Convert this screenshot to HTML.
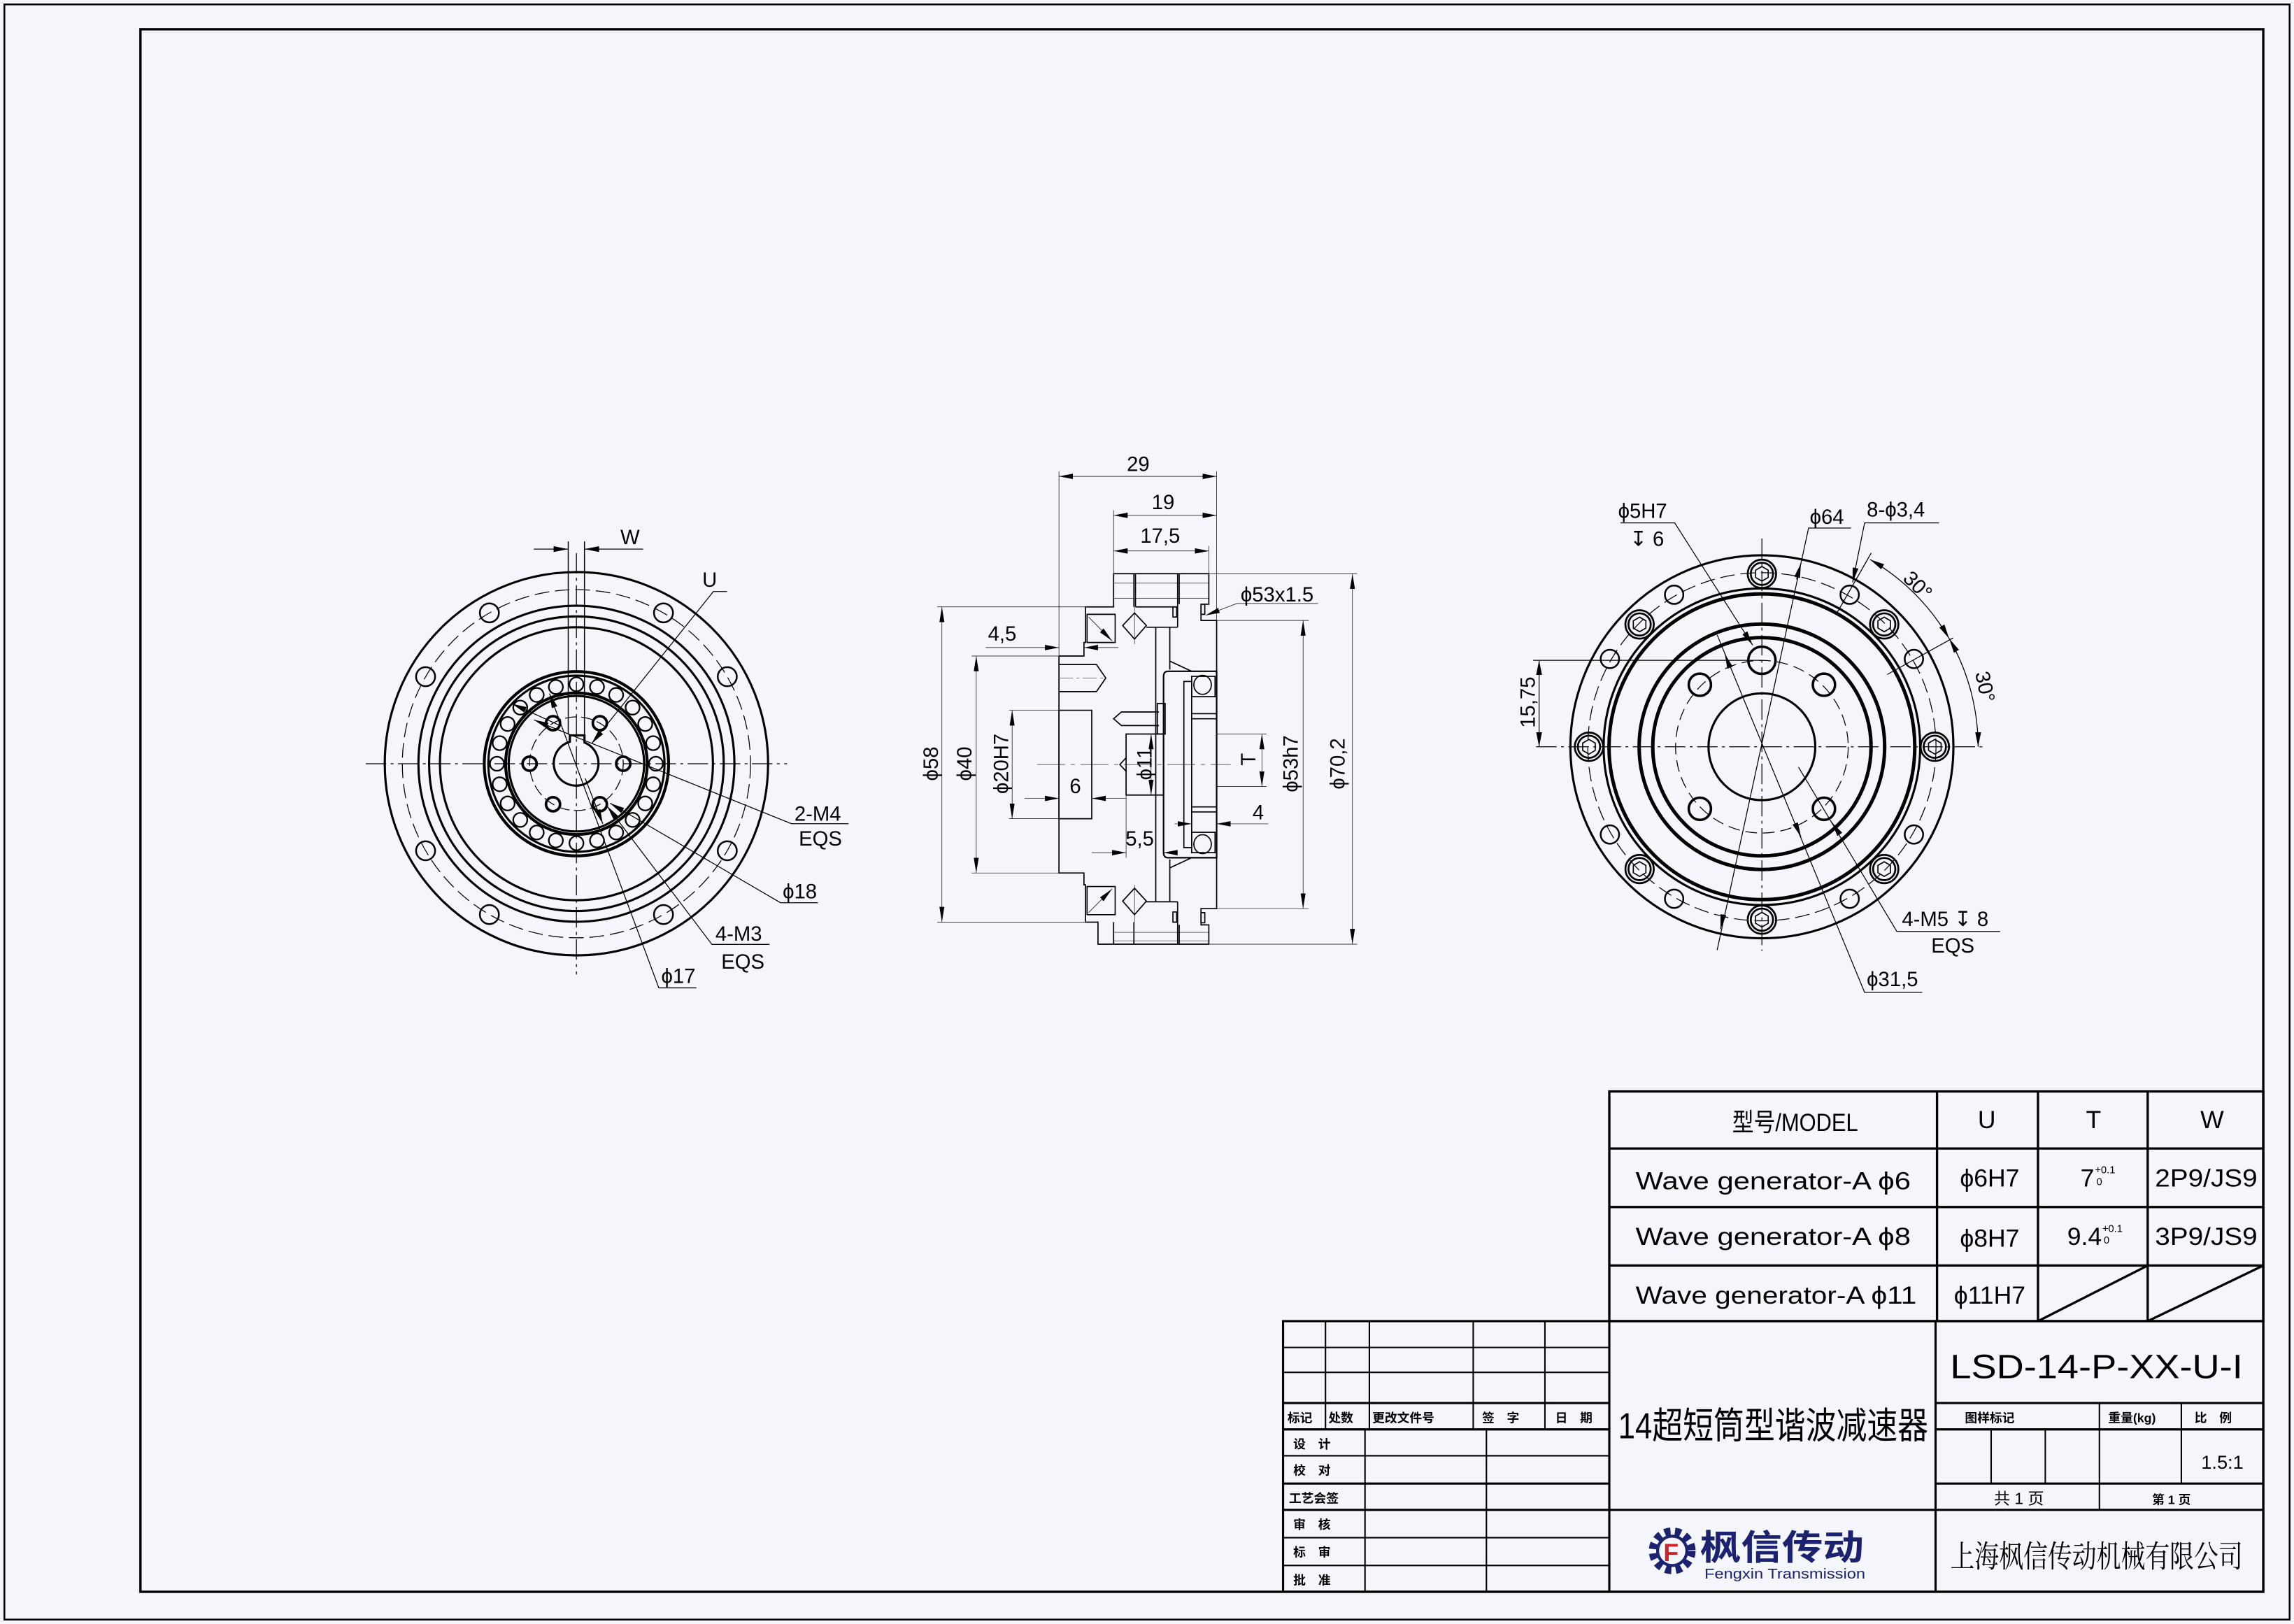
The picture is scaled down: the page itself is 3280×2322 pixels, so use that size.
<!DOCTYPE html>
<html><head><meta charset="utf-8">
<style>
html,body{margin:0;padding:0;background:#f4f6fb;}
svg{display:block;}
.g *{vector-effect:non-scaling-stroke;}
text{font-family:"Liberation Sans","Noto Sans CJK SC",sans-serif;fill:#000;stroke:none;}
</style></head>
<body>
<svg width="3280" height="2322" viewBox="0 0 1568 1110" xmlns="http://www.w3.org/2000/svg">
<defs>
<marker id="a" markerWidth="10" markerHeight="4" refX="10" refY="2" orient="auto-start-reverse" markerUnits="userSpaceOnUse"><path d="M0,0 L10,2 L0,4z" fill="#000"/></marker>
<marker id="b" markerWidth="45" markerHeight="16" refX="45" refY="8" orient="auto-start-reverse" markerUnits="userSpaceOnUse"><path d="M0,0 L45,8 L0,16z" fill="#000"/></marker>
</defs>
<rect width="1568" height="1110" fill="#f4f6fb"/>
<rect x="3" y="3" width="1562" height="1104" fill="none" stroke="#000" stroke-width="1.2"/>
<rect x="96" y="20" width="1451" height="1068" fill="none" stroke="#000" stroke-width="1.6"/>

<!-- LEFT VIEW -->
<g fill="none" stroke="#000" stroke-width="1.5">
<line x1="250" y1="522" x2="538" y2="522" stroke-width="0.6" stroke-dasharray="14,3,2,3"/>
<line x1="394" y1="378" x2="394" y2="666" stroke-width="0.6" stroke-dasharray="14,3,2,3"/>
<circle cx="394" cy="522" r="131"/>
<circle cx="394" cy="522" r="119" stroke-width="0.6" stroke-dasharray="10,4"/>
<circle cx="394" cy="522" r="108"/>
<circle cx="394" cy="522" r="100.7"/>
<circle cx="394" cy="522" r="93.3"/>
<circle cx="394" cy="522" r="63" stroke-width="2"/>
<circle cx="394" cy="522" r="60.2"/>
<circle cx="394" cy="522" r="48.4" stroke-width="2"/>
<circle cx="394" cy="522" r="46.3"/>
<g stroke-width="1.1">
<circle cx="394" cy="467.7" r="4.8"/>
<circle cx="394" cy="467.7" r="4.8" transform="rotate(15 394 522)"/>
<circle cx="394" cy="467.7" r="4.8" transform="rotate(30 394 522)"/>
<circle cx="394" cy="467.7" r="4.8" transform="rotate(45 394 522)"/>
<circle cx="394" cy="467.7" r="4.8" transform="rotate(60 394 522)"/>
<circle cx="394" cy="467.7" r="4.8" transform="rotate(75 394 522)"/>
<circle cx="394" cy="467.7" r="4.8" transform="rotate(90 394 522)"/>
<circle cx="394" cy="467.7" r="4.8" transform="rotate(105 394 522)"/>
<circle cx="394" cy="467.7" r="4.8" transform="rotate(120 394 522)"/>
<circle cx="394" cy="467.7" r="4.8" transform="rotate(135 394 522)"/>
<circle cx="394" cy="467.7" r="4.8" transform="rotate(150 394 522)"/>
<circle cx="394" cy="467.7" r="4.8" transform="rotate(165 394 522)"/>
<circle cx="394" cy="467.7" r="4.8" transform="rotate(180 394 522)"/>
<circle cx="394" cy="467.7" r="4.8" transform="rotate(195 394 522)"/>
<circle cx="394" cy="467.7" r="4.8" transform="rotate(210 394 522)"/>
<circle cx="394" cy="467.7" r="4.8" transform="rotate(225 394 522)"/>
<circle cx="394" cy="467.7" r="4.8" transform="rotate(240 394 522)"/>
<circle cx="394" cy="467.7" r="4.8" transform="rotate(255 394 522)"/>
<circle cx="394" cy="467.7" r="4.8" transform="rotate(270 394 522)"/>
<circle cx="394" cy="467.7" r="4.8" transform="rotate(285 394 522)"/>
<circle cx="394" cy="467.7" r="4.8" transform="rotate(300 394 522)"/>
<circle cx="394" cy="467.7" r="4.8" transform="rotate(315 394 522)"/>
<circle cx="394" cy="467.7" r="4.8" transform="rotate(330 394 522)"/>
<circle cx="394" cy="467.7" r="4.8" transform="rotate(345 394 522)"/>
</g>
<circle cx="394" cy="522" r="32" stroke-width="0.6" stroke-dasharray="8,3"/>
<g stroke-width="1.8">
<circle cx="426" cy="522" r="4.8"/><circle cx="362" cy="522" r="4.8"/>
<circle cx="410" cy="494.3" r="4.8"/><circle cx="378" cy="494.3" r="4.8"/>
<circle cx="410" cy="549.7" r="4.8"/><circle cx="378" cy="549.7" r="4.8"/>
</g>
<path d="M389.5,507 L389.5,502.6 L399.5,502.6 L399.5,507.5 A15.3,15.3 0 1 1 389.5,507z" stroke-width="1.5"/>
<line x1="388.4" y1="370" x2="388.4" y2="502" stroke-width="0.7"/>
<line x1="399.5" y1="370" x2="399.5" y2="502" stroke-width="0.7"/>
<g stroke-width="1.2">
<circle cx="497.1" cy="462.5" r="6.5"/><circle cx="290.9" cy="462.5" r="6.5"/>
<circle cx="497.1" cy="581.5" r="6.5"/><circle cx="290.9" cy="581.5" r="6.5"/>
<circle cx="453.5" cy="418.9" r="6.5"/><circle cx="334.5" cy="418.9" r="6.5"/>
<circle cx="453.5" cy="625.1" r="6.5"/><circle cx="334.5" cy="625.1" r="6.5"/>
</g>
<g stroke-width="0.6">
<line x1="364.9" y1="375.3" x2="388.4" y2="375.3" marker-end="url(#a)"/>
<line x1="439.6" y1="375.3" x2="399.5" y2="375.3" marker-end="url(#a)"/>
<polyline points="497,404.3 487.6,404.3 404.4,508.3" marker-end="url(#a)"/>
<polyline points="580,563 541,563 372,495" />
<line x1="372" y1="495" x2="365" y2="492" marker-end="url(#a)"/>
<polyline points="559,617 533.5,617 417,549" marker-end="url(#a)"/>
<line x1="383" y1="496" x2="350" y2="481" marker-end="url(#a)"/>
<polyline points="526,645.5 486.6,645.5 415,551" marker-end="url(#a)"/>
<polyline points="476,675.2 450.3,675.2 375.6,474" marker-end="url(#a)"/>
<line x1="400" y1="532" x2="412" y2="563" marker-end="url(#a)"/>
</g>
</g>
<g font-size="14">
<text x="424" y="372">W</text>
<text x="480" y="401">U</text>
<text x="543" y="561">2-M4</text>
<text x="546" y="578">EQS</text>
<text x="535" y="614">ϕ18</text>
<text x="489" y="643">4-M3</text>
<text x="493" y="662">EQS</text>
<text x="452" y="672">ϕ17</text>
</g>

<!-- MIDDLE VIEW (zoom coords) -->
<g class="g" transform="matrix(0.2134 0 0 0.2317 621.4 305.9)" fill="none" stroke="#000" stroke-width="1.7">
<polyline points="480,615 560,615 560,575 565,575 565,470 655,470 655,372 960,372 960,462 935,462 935,510 985,510 985,1360 935,1360 935,1408 960,1408 960,1465 605,1465 605,1400 565,1400 565,1290 560,1290 560,1255 480,1255 480,615"/>
<line x1="655" y1="1400" x2="655" y2="1465"/>
<line x1="720" y1="372" x2="720" y2="470"/>
<line x1="725" y1="372" x2="725" y2="470"/>
<line x1="860" y1="372" x2="860" y2="530"/>
<line x1="865" y1="372" x2="865" y2="462"/>
<line x1="655" y1="400" x2="960" y2="400" stroke-width="0.6"/>
<line x1="655" y1="445" x2="960" y2="445" stroke-width="0.6"/>
<line x1="725" y1="470" x2="860" y2="470"/>
<line x1="760" y1="530" x2="860" y2="530"/>
<line x1="790" y1="530" x2="790" y2="1340"/>
<line x1="835" y1="530" x2="835" y2="655"/>
<line x1="835" y1="1215" x2="835" y2="1340"/>
<line x1="720" y1="1400" x2="720" y2="1465"/>
<line x1="860" y1="1340" x2="860" y2="1465"/>
<line x1="865" y1="1408" x2="865" y2="1465"/>
<line x1="760" y1="1340" x2="860" y2="1340"/>
<line x1="655" y1="1430" x2="960" y2="1430" stroke-width="0.6"/>
<line x1="655" y1="1455" x2="960" y2="1455" stroke-width="0.6"/>
<rect x="845" y="470" width="12" height="30"/><rect x="935" y="462" width="12" height="30"/>
<rect x="845" y="1370" width="12" height="30"/><rect x="935" y="1372" width="12" height="30"/>
<path d="M722,488 L760,525 L722,565 L684,525z"/>
<path d="M722,1300 L760,1338 L722,1378 L684,1338z"/>
<line x1="722" y1="470" x2="722" y2="580" stroke-width="0.6"/>
<line x1="722" y1="1290" x2="722" y2="1400" stroke-width="0.6"/>
<rect x="570" y="492" width="90" height="83"/>
<line x1="575" y1="500" x2="650" y2="570" stroke-width="0.8" marker-end="url(#b)"/>
<rect x="570" y="1295" width="90" height="83"/>
<line x1="575" y1="1372" x2="650" y2="1302" stroke-width="0.8" marker-end="url(#b)"/>
<polyline points="480,640 600,640 630,680 600,720 480,720"/>
<line x1="480" y1="680" x2="625" y2="680" stroke-width="0.6" stroke-dasharray="20,5,4,5"/>
<rect x="480" y="775" width="105" height="320"/>
<rect x="695" y="845" width="120" height="180"/>
<polyline points="695,915 675,935 695,955" />
<rect x="795" y="755" width="25" height="90"/>
<polyline points="800,780 680,780 655,800 680,820 800,820"/>
<path d="M815,675 Q815,660 830,660 L985,660 L985,1210 L830,1210 Q815,1210 815,1195z" stroke-width="2.2"/>
<rect x="880" y="690" width="25" height="490"/>
<circle cx="940" cy="700" r="28"/><circle cx="940" cy="1170" r="28"/>
<rect x="905" y="675" width="75" height="60"/><rect x="905" y="1135" width="75" height="60"/>
<line x1="905" y1="785" x2="985" y2="785"/><line x1="905" y1="800" x2="985" y2="800"/>
<line x1="905" y1="1060" x2="985" y2="1060"/><line x1="905" y1="1075" x2="985" y2="1075"/>
<line x1="835" y1="630" x2="905" y2="660"/><line x1="835" y1="1240" x2="905" y2="1210"/>
<line x1="410" y1="935" x2="1030" y2="935" stroke-width="0.6" stroke-dasharray="40,8,6,8"/>
<g stroke-width="0.7">
<line x1="480" y1="70" x2="480" y2="615"/><line x1="985" y1="70" x2="985" y2="510"/>
<line x1="480" y1="85" x2="985" y2="85" marker-start="url(#b)" marker-end="url(#b)"/>
<line x1="655" y1="185" x2="655" y2="372"/>
<line x1="655" y1="200" x2="985" y2="200" marker-start="url(#b)" marker-end="url(#b)"/>
<line x1="960" y1="290" x2="960" y2="372"/>
<line x1="655" y1="305" x2="960" y2="305" marker-start="url(#b)" marker-end="url(#b)"/>
<line x1="90" y1="470" x2="565" y2="470"/><line x1="90" y1="1400" x2="565" y2="1400"/>
<line x1="105" y1="470" x2="105" y2="1400" marker-start="url(#b)" marker-end="url(#b)"/>
<line x1="200" y1="615" x2="480" y2="615"/><line x1="200" y1="1255" x2="480" y2="1255"/>
<line x1="215" y1="615" x2="215" y2="1255" marker-start="url(#b)" marker-end="url(#b)"/>
<line x1="320" y1="775" x2="480" y2="775"/><line x1="320" y1="1095" x2="480" y2="1095"/>
<line x1="330" y1="775" x2="330" y2="1095" marker-start="url(#b)" marker-end="url(#b)"/>
<line x1="245" y1="590" x2="480" y2="590" marker-end="url(#b)"/>
<line x1="670" y1="590" x2="560" y2="590" marker-end="url(#b)"/>
<line x1="370" y1="1035" x2="480" y2="1035" marker-end="url(#b)"/>
<line x1="695" y1="1035" x2="585" y2="1035" marker-end="url(#b)"/>
<line x1="695" y1="1025" x2="695" y2="1210"/>
<line x1="585" y1="1195" x2="695" y2="1195" marker-end="url(#b)"/>
<line x1="860" y1="1195" x2="815" y2="1195" marker-end="url(#b)"/>
<line x1="775" y1="845" x2="775" y2="1025" marker-start="url(#b)" marker-end="url(#b)"/>
<line x1="985" y1="845" x2="1145" y2="845"/><line x1="985" y1="1000" x2="1145" y2="1000"/>
<line x1="1130" y1="845" x2="1130" y2="1000" marker-start="url(#b)" marker-end="url(#b)"/>
<line x1="850" y1="1110" x2="905" y2="1110" marker-end="url(#b)"/>
<line x1="1150" y1="1110" x2="985" y2="1110" marker-end="url(#b)"/>
<line x1="985" y1="510" x2="1280" y2="510"/><line x1="985" y1="1360" x2="1280" y2="1360"/>
<line x1="1262" y1="510" x2="1262" y2="1360" marker-start="url(#b)" marker-end="url(#b)"/>
<line x1="960" y1="372" x2="1435" y2="372"/><line x1="960" y1="1465" x2="1435" y2="1465"/>
<line x1="1420" y1="372" x2="1420" y2="1465" marker-start="url(#b)" marker-end="url(#b)"/>
<polyline points="950,495 1050,460 1310,460" marker-start="url(#b)"/>
</g>
</g>
<g font-size="14">
<text x="778" y="322" text-anchor="middle">29</text>
<text x="795" y="348" text-anchor="middle">19</text>
<text x="793" y="371" text-anchor="middle">17,5</text>
<text x="848" y="411">ϕ53x1.5</text>
<text x="685" y="438" text-anchor="middle">4,5</text>
<text x="735" y="542" text-anchor="middle">6</text>
<text x="860" y="560" text-anchor="middle">4</text>
<text x="779" y="578" text-anchor="middle">5,5</text>
<text transform="translate(641,522) rotate(-90)" text-anchor="middle">ϕ58</text>
<text transform="translate(664,522) rotate(-90)" text-anchor="middle">ϕ40</text>
<text transform="translate(689,522) rotate(-90)" text-anchor="middle">ϕ20H7</text>
<text transform="translate(787,522) rotate(-90)" text-anchor="middle">ϕ11</text>
<text transform="translate(858,519) rotate(-90)" text-anchor="middle">T</text>
<text transform="translate(887,522) rotate(-90)" text-anchor="middle">ϕ53h7</text>
<text transform="translate(919,522) rotate(-90)" text-anchor="middle">ϕ70,2</text>
</g>

<!-- RIGHT VIEW -->
<g fill="none" stroke="#000" stroke-width="1.5">
<line x1="1050" y1="510.4" x2="1356" y2="510.4" stroke-width="0.6" stroke-dasharray="14,3,2,3"/>
<line x1="1204.3" y1="368" x2="1204.3" y2="650" stroke-width="0.6" stroke-dasharray="14,3,2,3"/>
<circle cx="1204.3" cy="510.4" r="130.9"/>
<circle cx="1204.3" cy="510.4" r="119" stroke-width="0.6" stroke-dasharray="10,4"/>
<circle cx="1204.3" cy="510.4" r="108.2"/>
<circle cx="1204.3" cy="510.4" r="104.5" stroke-width="2.4"/>
<circle cx="1204.3" cy="510.4" r="83.9" stroke-width="2.4"/>
<circle cx="1204.3" cy="510.4" r="74.6" stroke-width="2.4"/>
<circle cx="1204.3" cy="510.4" r="59" stroke-width="0.6" stroke-dasharray="8,4"/>
<circle cx="1204.3" cy="510.4" r="36.5"/>
<g stroke-width="1.3">
<circle cx="1322.5" cy="510.4" r="9.7"/><circle cx="1086.1" cy="510.4" r="9.7"/>
<circle cx="1204.3" cy="392.2" r="9.7"/><circle cx="1204.3" cy="628.6" r="9.7"/>
<circle cx="1287.9" cy="426.8" r="9.7"/><circle cx="1120.7" cy="426.8" r="9.7"/>
<circle cx="1287.9" cy="594" r="9.7"/><circle cx="1120.7" cy="594" r="9.7"/>
<circle cx="1322.5" cy="510.4" r="7.6"/><circle cx="1086.1" cy="510.4" r="7.6"/>
<circle cx="1204.3" cy="392.2" r="7.6"/><circle cx="1204.3" cy="628.6" r="7.6"/>
<circle cx="1287.9" cy="426.8" r="7.6"/><circle cx="1120.7" cy="426.8" r="7.6"/>
<circle cx="1287.9" cy="594" r="7.6"/><circle cx="1120.7" cy="594" r="7.6"/>
</g>
<g stroke-width="0.8">
<path d="M1322.5,505.4 l4.3,2.5 v5 l-4.3,2.5 l-4.3,-2.5 v-5z"/>
<path d="M1086.1,505.4 l4.3,2.5 v5 l-4.3,2.5 l-4.3,-2.5 v-5z"/>
<path d="M1204.3,387.2 l4.3,2.5 v5 l-4.3,2.5 l-4.3,-2.5 v-5z"/>
<path d="M1204.3,623.6 l4.3,2.5 v5 l-4.3,2.5 l-4.3,-2.5 v-5z"/>
<path d="M1287.9,421.8 l4.3,2.5 v5 l-4.3,2.5 l-4.3,-2.5 v-5z"/>
<path d="M1120.7,421.8 l4.3,2.5 v5 l-4.3,2.5 l-4.3,-2.5 v-5z"/>
<path d="M1287.9,589 l4.3,2.5 v5 l-4.3,2.5 l-4.3,-2.5 v-5z"/>
<path d="M1120.7,589 l4.3,2.5 v5 l-4.3,2.5 l-4.3,-2.5 v-5z"/>
</g>
<g stroke-width="1.2">
<circle cx="1308.2" cy="450.4" r="6.3"/><circle cx="1100.4" cy="450.4" r="6.3"/>
<circle cx="1308.2" cy="570.4" r="6.3"/><circle cx="1100.4" cy="570.4" r="6.3"/>
<circle cx="1264.3" cy="406.5" r="6.3"/><circle cx="1144.3" cy="406.5" r="6.3"/>
<circle cx="1264.3" cy="614.3" r="6.3"/><circle cx="1144.3" cy="614.3" r="6.3"/>
</g>
<g stroke-width="1.7">
<circle cx="1246.7" cy="468" r="7.6"/><circle cx="1161.9" cy="468" r="7.6"/>
<circle cx="1246.7" cy="552.8" r="7.6"/><circle cx="1161.9" cy="552.8" r="7.6"/>
<circle cx="1204.3" cy="451.3" r="9.3"/>
</g>
<g stroke-width="0.6">
<polyline points="1107.6,357.4 1144.7,357.4 1198,441" marker-end="url(#a)"/>
<polyline points="1265.2,360.9 1236.2,360.9 1173.7,649.4"/>
<line x1="1228" y1="396" x2="1231" y2="385" marker-end="url(#a)"/>
<line x1="1178" y1="625" x2="1176" y2="635" marker-end="url(#a)"/>
<polyline points="1325.4,357.4 1274.5,357.4 1266.3,398" marker-end="url(#a)"/>
<line x1="1255" y1="420" x2="1279" y2="378"/>
<line x1="1290" y1="461" x2="1335" y2="436"/>
<path d="M1278.2,382.4 A147.8,147.8 0 0 1 1332.3,436.5" marker-start="url(#a)" marker-end="url(#a)"/>
<path d="M1332.3,436.5 A147.8,147.8 0 0 1 1352.1,510.4" marker-start="url(#a)" marker-end="url(#a)"/>
<line x1="1048" y1="451.3" x2="1204" y2="451.3"/>
<line x1="1052" y1="451.3" x2="1052" y2="510.4" marker-start="url(#a)" marker-end="url(#a)"/>
<polyline points="1367.1,636.6 1296.5,636.6 1229.3,524.3"/>
<line x1="1252" y1="562" x2="1256" y2="568" marker-start="url(#a)"/>
<polyline points="1313.9,678.3 1274.5,678.3 1173.7,433.9"/>
<line x1="1228" y1="565" x2="1231" y2="572" marker-end="url(#a)"/>
<line x1="1182" y1="455" x2="1179" y2="447" marker-end="url(#a)"/>
</g>
</g>
<g font-size="14">
<text x="1106" y="354">ϕ5H7</text>
<text x="1114" y="373">↧ 6</text>
<text x="1237" y="358">ϕ64</text>
<text x="1276" y="353">8-ϕ3,4</text>
<text transform="translate(1300,396) rotate(45)">30°</text>
<text transform="translate(1350,460) rotate(78)">30°</text>
<text transform="translate(1049,480) rotate(-90)" text-anchor="middle">15,75</text>
<text x="1300" y="633">4-M5 ↧ 8</text>
<text x="1320" y="651">EQS</text>
<text x="1276" y="674">ϕ31,5</text>
</g>

<!-- UPPER TABLE -->
<g fill="none" stroke="#000" stroke-width="1.6">
<rect x="1100" y="746" width="447" height="157"/>
<line x1="1100" y1="785" x2="1547" y2="785"/>
<line x1="1100" y1="825" x2="1547" y2="825"/>
<line x1="1100" y1="865" x2="1547" y2="865"/>
<line x1="1324" y1="746" x2="1324" y2="903"/>
<line x1="1393" y1="746" x2="1393" y2="903"/>
<line x1="1468" y1="746" x2="1468" y2="903"/>
<line x1="1393" y1="903" x2="1468" y2="865"/>
<line x1="1468" y1="903" x2="1547" y2="865"/>
</g>
<g font-size="17">
<text x="1184" y="773" textLength="86" lengthAdjust="spacingAndGlyphs">型号/MODEL</text>
<text x="1358" y="771" text-anchor="middle">U</text>
<text x="1431" y="771" text-anchor="middle">T</text>
<text x="1512" y="771" text-anchor="middle">W</text>
<text x="1118" y="813" textLength="188" lengthAdjust="spacingAndGlyphs">Wave generator-A ϕ6</text>
<text x="1118" y="851" textLength="188" lengthAdjust="spacingAndGlyphs">Wave generator-A ϕ8</text>
<text x="1118" y="891" textLength="192" lengthAdjust="spacingAndGlyphs">Wave generator-A ϕ11</text>
<text x="1360" y="811" text-anchor="middle">ϕ6H7</text>
<text x="1360" y="852" text-anchor="middle">ϕ8H7</text>
<text x="1360" y="891" text-anchor="middle">ϕ11H7</text>
<text x="1422" y="811">7</text><text x="1432" y="802" font-size="7">+0.1</text><text x="1433" y="810" font-size="7">0</text>
<text x="1413" y="851">9.4</text><text x="1437" y="842" font-size="7">+0.1</text><text x="1438" y="850" font-size="7">0</text>
<text x="1473" y="811" textLength="70" lengthAdjust="spacingAndGlyphs">2P9/JS9</text>
<text x="1473" y="851" textLength="70" lengthAdjust="spacingAndGlyphs">3P9/JS9</text>
</g>

<!-- TITLE BLOCK -->
<g fill="none" stroke="#000" stroke-width="1.5">
<rect x="877" y="903" width="670" height="185"/>
<line x1="877" y1="921" x2="1100" y2="921" stroke-width="1"/>
<line x1="877" y1="938" x2="1100" y2="938" stroke-width="1"/>
<line x1="877" y1="959" x2="1100" y2="959"/>
<line x1="1323" y1="959" x2="1547" y2="959"/>
<line x1="877" y1="977" x2="1100" y2="977"/>
<line x1="1323" y1="977" x2="1547" y2="977"/>
<line x1="877" y1="995" x2="1100" y2="995" stroke-width="1"/>
<line x1="877" y1="1014" x2="1100" y2="1014"/>
<line x1="1323" y1="1014" x2="1547" y2="1014"/>
<line x1="877" y1="1032" x2="1547" y2="1032"/>
<line x1="877" y1="1051" x2="1100" y2="1051" stroke-width="1"/>
<line x1="877" y1="1070" x2="1100" y2="1070" stroke-width="1"/>
<line x1="906" y1="903" x2="906" y2="977" stroke-width="1"/>
<line x1="936" y1="903" x2="936" y2="977" stroke-width="1"/>
<line x1="1007" y1="903" x2="1007" y2="977" stroke-width="1"/>
<line x1="1056" y1="903" x2="1056" y2="977" stroke-width="1"/>
<line x1="933" y1="977" x2="933" y2="1088" stroke-width="1"/>
<line x1="1016" y1="977" x2="1016" y2="1088" stroke-width="1"/>
<line x1="1100" y1="903" x2="1100" y2="1088"/>
<line x1="1323" y1="903" x2="1323" y2="1088"/>
<line x1="1361" y1="977" x2="1361" y2="1014" stroke-width="1"/>
<line x1="1398" y1="977" x2="1398" y2="1014" stroke-width="1"/>
<line x1="1435" y1="959" x2="1435" y2="1032" stroke-width="1"/>
<line x1="1491" y1="959" x2="1491" y2="1014" stroke-width="1"/>
</g>
<g font-size="8.5" font-weight="bold">
<text x="880" y="972">标记</text><text x="908" y="972">处数</text><text x="938" y="972">更改文件号</text>
<text x="1013" y="972">签　字</text><text x="1063" y="972">日　期</text>
<text x="884" y="990">设　计</text><text x="884" y="1008">校　对</text><text x="881" y="1027">工艺会签</text>
<text x="884" y="1045">审　核</text><text x="884" y="1064">标　审</text><text x="884" y="1083">批　准</text>
<text x="1343" y="972">图样标记</text><text x="1441" y="972">重量(kg)</text><text x="1500" y="972">比　例</text>
<text x="1471" y="1028">第 1 页</text>
</g>
<text x="1380" y="1028" font-size="11" text-anchor="middle">共 1 页</text>
<text x="1519" y="1004" font-size="13" text-anchor="middle">1.5:1</text>
<text x="1333" y="942" font-size="23" textLength="200" lengthAdjust="spacingAndGlyphs">LSD-14-P-XX-U-I</text>
<text x="1106" y="983" font-size="25" textLength="212" lengthAdjust="spacingAndGlyphs">14超短筒型谐波减速器</text>
<text x="1333" y="1071" font-size="21" textLength="200" lengthAdjust="spacingAndGlyphs" style="font-family:'Noto Serif CJK SC',serif;">上海枫信传动机械有限公司</text>
<!-- logo -->
<g>
<circle cx="1143" cy="1060" r="13" fill="none" stroke="#1b2270" stroke-width="6" stroke-dasharray="4,3"/>
<circle cx="1143" cy="1060" r="10" fill="#f4f6fb" stroke="#1b2270" stroke-width="2"/>
<text x="1137" y="1067" font-size="17" font-weight="bold" style="fill:#d0202a">F</text>
<text x="1162" y="1066" font-size="24" font-weight="bold" textLength="112" lengthAdjust="spacingAndGlyphs" style="fill:#1b2270;font-family:'Noto Sans CJK SC',sans-serif">枫信传动</text>
<text x="1165" y="1079" font-size="9.5" textLength="110" lengthAdjust="spacingAndGlyphs" style="fill:#1b2270">Fengxin Transmission</text>
</g>
</svg>
</body></html>
